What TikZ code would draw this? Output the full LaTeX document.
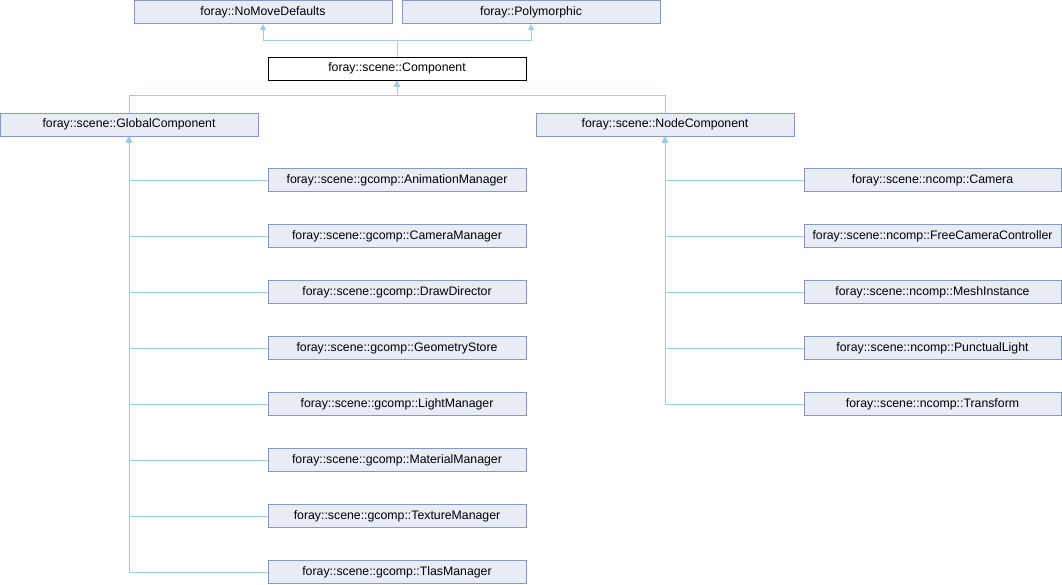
\documentclass[tikz,border=0pt]{standalone}
\usepackage{fontspec}
\setmainfont{Liberation Sans}
\usetikzlibrary{arrows.meta}
\definecolor{boxfill}{HTML}{E8ECF4}
\definecolor{boxline}{HTML}{8498CB}
\definecolor{edgeblue}{HTML}{9DCDE9}
\tikzset{
  cls/.style={draw=boxline, fill=boxfill, line width=1pt, rectangle, minimum width=258pt, minimum height=23pt, inner sep=0pt, font=\fontsize{12.3}{14}\selectfont},
  curcls/.style={cls, draw=black, fill=white},
  edge/.style={draw=edgeblue, line width=1pt, -{Triangle[width=6pt,length=6pt]}}
}
\begin{document}
\begin{tikzpicture}[x=1pt, y=-1pt]
\useasboundingbox (0,0) rectangle (1062,584);
\node[cls] (nmd) at (263,12) {foray::NoMoveDefaults};
\node[cls] (poly) at (531,12) {foray::Polymorphic};
\node[curcls] (comp) at (397,68.5) {foray::scene::Component};

\node[cls] (gc) at (129,124.5) {foray::scene::GlobalComponent};
\node[cls] (nc) at (665,124.5) {foray::scene::NodeComponent};

\node[cls] (anim) at (397,180) {foray::scene::gcomp::AnimationManager};
\node[cls] (cammgr) at (397,236) {foray::scene::gcomp::CameraManager};
\node[cls] (draw) at (397,292) {foray::scene::gcomp::DrawDirector};
\node[cls] (geo) at (397,348) {foray::scene::gcomp::GeometryStore};
\node[cls] (light) at (397,404) {foray::scene::gcomp::LightManager};
\node[cls] (mat) at (397,460) {foray::scene::gcomp::MaterialManager};
\node[cls] (tex) at (397,516) {foray::scene::gcomp::TextureManager};
\node[cls] (tlas) at (397,572) {foray::scene::gcomp::TlasManager};

\node[cls, minimum width=257pt] (cam) at (932.5,180) {foray::scene::ncomp::Camera};
\node[cls, minimum width=257pt] (fcc) at (932.5,236) {foray::scene::ncomp::FreeCameraController};
\node[cls, minimum width=257pt] (mesh) at (932.5,292) {foray::scene::ncomp::MeshInstance};
\node[cls, minimum width=257pt] (punct) at (932.5,348) {foray::scene::ncomp::PunctualLight};
\node[cls, minimum width=257pt] (trans) at (932.5,404) {foray::scene::ncomp::Transform};

\draw[edge] (comp.north) -- ++(0,-16) -| (nmd.south);
\draw[edge] (comp.north) -- ++(0,-16) -| (poly.south);
\draw[edge] (gc.north) -- ++(0,-17) -| (comp.south);
\draw[edge] (nc.north) -- ++(0,-17) -| (comp.south);

\draw[edge] (anim.west) -| (gc.south);
\draw[edge] (cammgr.west) -| (gc.south);
\draw[edge] (draw.west) -| (gc.south);
\draw[edge] (geo.west) -| (gc.south);
\draw[edge] (light.west) -| (gc.south);
\draw[edge] (mat.west) -| (gc.south);
\draw[edge] (tex.west) -| (gc.south);
\draw[edge] (tlas.west) -| (gc.south);

\draw[edge] (cam.west) -| (nc.south);
\draw[edge] (fcc.west) -| (nc.south);
\draw[edge] (mesh.west) -| (nc.south);
\draw[edge] (punct.west) -| (nc.south);
\draw[edge] (trans.west) -| (nc.south);
\end{tikzpicture}
\end{document}
